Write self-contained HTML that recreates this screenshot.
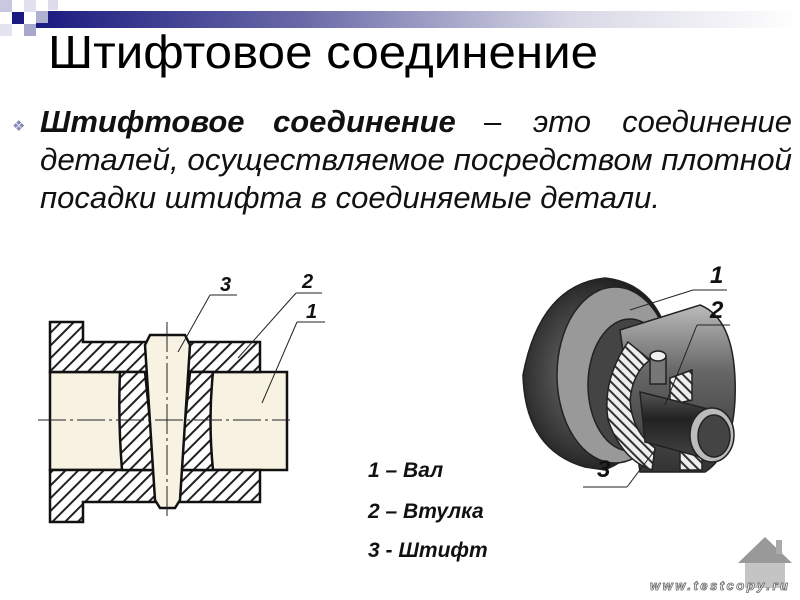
<!DOCTYPE html>
<html><head><meta charset="utf-8"><style>
body{margin:0;width:800px;height:600px;background:#fff;overflow:hidden;position:relative;font-family:"Liberation Sans","DejaVu Sans",sans-serif}
</style></head><body>
<svg width="800" height="600" viewBox="0 0 800 600" xmlns="http://www.w3.org/2000/svg" style="position:absolute;left:0;top:0">
<defs>
<linearGradient id="bar" x1="0" x2="1"><stop offset="0" stop-color="#1a1a80"/><stop offset="0.35" stop-color="#6a6aa8"/><stop offset="0.7" stop-color="#d8d8e6"/><stop offset="1" stop-color="#fff"/></linearGradient>
<pattern id="h" width="9" height="9" patternUnits="userSpaceOnUse" patternTransform="rotate(45)"><rect width="9" height="9" fill="#fff"/><rect width="2" height="9" fill="#222"/></pattern>
<pattern id="h2" width="7" height="7" patternUnits="userSpaceOnUse" patternTransform="rotate(-45)"><rect width="7" height="7" fill="#eee"/><rect width="2" height="7" fill="#333"/></pattern>
<radialGradient id="dk" cx="0.45" cy="0.5" r="0.6"><stop offset="0" stop-color="#777"/><stop offset="0.7" stop-color="#333"/><stop offset="1" stop-color="#111"/></radialGradient>
<linearGradient id="cyl" x1="0" y1="0" x2="0" y2="1"><stop offset="0" stop-color="#bbb"/><stop offset="0.4" stop-color="#666"/><stop offset="1" stop-color="#333"/></linearGradient>
<linearGradient id="shaft" x1="0" y1="0" x2="0" y2="1"><stop offset="0" stop-color="#555"/><stop offset="0.4" stop-color="#222"/><stop offset="1" stop-color="#444"/></linearGradient>
</defs>
<!-- header -->
<rect x="36" y="11" width="764" height="17" fill="url(#bar)"/>
<rect x="0" y="0" width="12" height="12" fill="#c8c8e0"/>
<rect x="12" y="12" width="12" height="12" fill="#1a1a80"/>
<rect x="24" y="0" width="12" height="12" fill="#e0e0ee"/>
<rect x="36" y="11" width="12" height="12" fill="#b0b0d0"/>
<rect x="24" y="24" width="12" height="12" fill="#a8a8cc"/>
<rect x="48" y="0" width="10" height="10" fill="#dcdcec"/>
<rect x="0" y="24" width="12" height="12" fill="#e4e4f0"/>
<text x="48" y="68" font-size="46" fill="#000" textLength="550" lengthAdjust="spacingAndGlyphs">Штифтовое соединение</text>
<!-- bullet -->
<text x="12" y="131" font-size="15" fill="#8a8ab8">❖</text>
<g font-size="31" font-style="italic" fill="#111">
<text x="40" y="132" font-weight="bold">Штифтовое</text>
<text x="273" y="132" font-weight="bold">соединение</text>
<text x="484" y="132">–</text>
<text x="533" y="132">это</text>
<text x="792" y="132" text-anchor="end">соединение</text>
<text x="40" y="170" textLength="752" lengthAdjust="spacingAndGlyphs">деталей, осуществляемое посредством плотной</text>
<text x="40" y="208" textLength="620" lengthAdjust="spacingAndGlyphs">посадки штифта в соединяемые детали.</text>
</g>
<!-- left drawing -->
<g stroke="#111" stroke-width="2.5">
<rect x="50" y="372" width="237" height="98" fill="#f7f2e2"/>
<path d="M50 322 H83 V342 H260 V372 H50 Z" fill="url(#h)"/>
<path d="M50 470 H260 V502 H83 V522 H50 Z" fill="url(#h)"/>
<path d="M120 372 H145 L155 470 H122 Q118 420 120 372 Z" fill="url(#h)"/>
<path d="M190 372 H213 Q208 420 213 470 H180 Z" fill="url(#h)"/>
<path d="M150 335 H185 L190 345 L180 500 L175 508 H160 L155 500 L145 345 Z" fill="#f7f2e2"/>
</g>
<g stroke="#222" stroke-width="1" fill="none">
<line x1="38" y1="420" x2="290" y2="420" stroke-dasharray="28 4 3 4"/>
<line x1="167" y1="322" x2="167" y2="518" stroke-dasharray="30 4 3 4"/>
<line x1="178" y1="352" x2="210" y2="295"/><line x1="210" y1="295" x2="237" y2="295"/>
<line x1="238" y1="358" x2="296" y2="293"/><line x1="296" y1="293" x2="322" y2="293"/>
<line x1="262" y1="403" x2="297" y2="322"/><line x1="297" y1="322" x2="325" y2="322"/>
</g>
<g font-size="20" font-weight="bold" font-style="italic" fill="#111">
<text x="220" y="291">3</text><text x="302" y="288">2</text><text x="306" y="318">1</text>
</g>
<!-- right 3D -->
<g stroke="#222" stroke-width="1.5">
<path d="M605 278 Q540 285 523 375 Q525 450 585 467 L605 470 Q672 440 673 370 Q668 285 605 278 Z" fill="url(#dk)"/>
<ellipse cx="615" cy="375" rx="58" ry="88" fill="#999"/>
<ellipse cx="630" cy="385" rx="42" ry="66" fill="#444"/>
<path d="M620 330 L700 305 Q738 320 735 400 Q732 455 705 472 L640 472 Z" fill="url(#cyl)"/>
<path d="M628 342 Q602 380 608 420 Q622 460 652 470 L655 448 Q632 432 630 400 Q633 372 650 360 Z" fill="url(#h2)"/>
<path d="M670 378 L692 370 L692 400 L670 405 Z" fill="url(#h2)"/>
<path d="M680 450 L702 446 L702 470 L680 470 Z" fill="url(#h2)"/>
<path d="M640 392 L712 410 L712 460 L645 442 Z" fill="url(#shaft)"/>
<ellipse cx="712" cy="435" rx="22" ry="27" fill="#bbb"/>
<ellipse cx="714" cy="436" rx="16" ry="21" fill="#444"/>
<rect x="650" y="356" width="16" height="28" fill="#777"/>
<ellipse cx="658" cy="356" rx="8" ry="5" fill="#eee"/>
</g>
<g stroke="#222" stroke-width="1" fill="none">
<line x1="630" y1="310" x2="693" y2="290"/><line x1="693" y1="290" x2="727" y2="290"/>
<line x1="665" y1="405" x2="697" y2="325"/><line x1="697" y1="325" x2="730" y2="325"/>
<line x1="655" y1="450" x2="627" y2="487"/><line x1="627" y1="487" x2="583" y2="487"/>
</g>
<g font-size="24" font-weight="bold" font-style="italic" fill="#111">
<text x="710" y="283">1</text><text x="710" y="318">2</text><text x="597" y="477">3</text>
</g>
<!-- legend -->
<g font-size="21" font-weight="bold" font-style="italic" fill="#111">
<text x="368" y="477">1 – Вал</text>
<text x="368" y="518">2 – Втулка</text>
<text x="368" y="557">3 - Штифт</text>
</g>
<!-- home icon -->
<polygon points="738,563 765,537 792,563" fill="#999"/>
<rect x="776" y="540" width="6" height="14" fill="#aaa"/>
<rect x="745" y="563" width="40" height="25" fill="#c4c4c4"/>
<text x="650" y="590" font-size="13" font-weight="bold" font-style="italic" fill="#fff" stroke="#666" stroke-width="0.8" textLength="138">www.testcopy.ru</text>
</svg>
</body></html>
